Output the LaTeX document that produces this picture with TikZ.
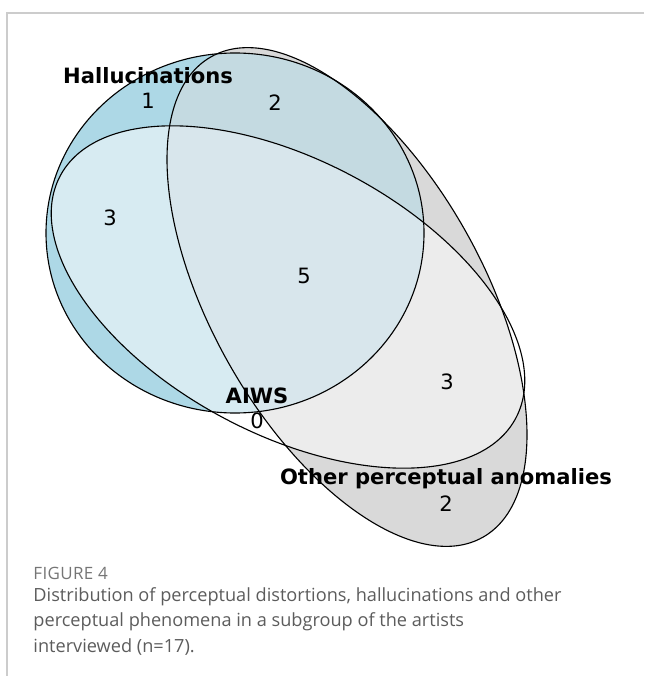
\documentclass[tikz,border=0pt]{standalone}
\usepackage{fontspec}
\setmainfont{DejaVu Sans}
\newfontfamily\captionfont{Open Sans}
\newfontfamily\figfont[LetterSpace=2]{Open Sans}
\usetikzlibrary{backgrounds}

\definecolor{hallblue}{RGB}{173,216,230}
\definecolor{othergray}{RGB}{217,217,217}
\definecolor{hallother}{RGB}{196,218,225}
\definecolor{hallaiws}{RGB}{215,235,242}
\definecolor{otheraiws}{RGB}{236,236,236}
\definecolor{allthree}{RGB}{216,230,236}
\definecolor{framegray}{RGB}{204,204,204}
\definecolor{captiongray}{RGB}{92,92,92}

\begin{document}
\begin{tikzpicture}[x=0.03cm,y=-0.03cm,thick]
    % `setname' is used for the bold set titles, `count' for the region numbers.
    % `outline' is used for the three ellipse borders.
    \tikzstyle{setname} = [font=\bfseries\fontsize{18}{18}\selectfont,inner sep=0pt]
    \tikzstyle{count} = [font=\fontsize{18}{18}\selectfont,inner sep=0pt]
    \tikzstyle{outline} = [draw=black,line width=0.95pt]
    \tikzstyle{frame} = [draw=framegray,line width=1.2pt]
    \tikzstyle{caption} = [font=\captionfont\fontsize{15.5}{21.3}\selectfont,text=captiongray,anchor=west,inner sep=0pt]
    %
    \def\hallset{(235,233) ellipse [x radius=189, y radius=180]}
    \def\aiwsset{(288,297) ellipse [x radius=258, y radius=137, rotate=-28]}
    \def\otherset{(347,297) ellipse [x radius=276, y radius=135.6, rotate=-60.5]}
    \useasboundingbox (0,0) rectangle (644,676);
    %
    \node[setname] (hallname) at (148,76) {Hallucinations};
    \node[count] (h1) at (148,101) {1};
    \node[count] (ho2) at (275,103) {2};
    \node[count] (ha3) at (110,218) {3};
    \node[count] (hao5) at (304,276) {5};
    \node[count] (ao3) at (447,382) {3};
    \node[setname] (aiwsname) at (257,396) {AIWS};
    \node[count] (a0) at (257,421) {0};
    \node[setname] (othername) at (446,479) {Other perceptual anomalies};
    \node[count] (o2) at (446,504) {2};
    %
    \node[caption,font=\figfont\fontsize{14.5}{16}\selectfont,text=captiongray!85] (figno) at (33,573) {FIGURE 4};
    \node[caption] (cap1) at (33,597) {Distribution of perceptual distortions, hallucinations and other};
    \node[caption] (cap2) at (33,622) {perceptual phenomena in a subgroup of the artists};
    \node[caption] (cap3) at (33,647) {interviewed (n=17).};
  \begin{pgfonlayer}{background}
        % Fill the regions, then the overlaps.
    \fill[hallblue] \hallset;
    \fill[othergray] \otherset;
    \fill[white] \aiwsset;
    \begin{scope}
      \clip \otherset;
      \fill[otheraiws] \aiwsset;
    \end{scope}
    \begin{scope}
      \clip \hallset;
      \fill[hallother] \otherset;
      \fill[hallaiws] \aiwsset;
      \clip \otherset;
      \fill[allthree] \aiwsset;
    \end{scope}
        % Draw borders and frame.
    \draw[outline] \hallset;
    \draw[outline] \aiwsset;
    \draw[outline] \otherset;
    \draw[frame] (644,13) -- (7,13) -- (7,676);
  \end{pgfonlayer}
\end{tikzpicture}
\end{document}
